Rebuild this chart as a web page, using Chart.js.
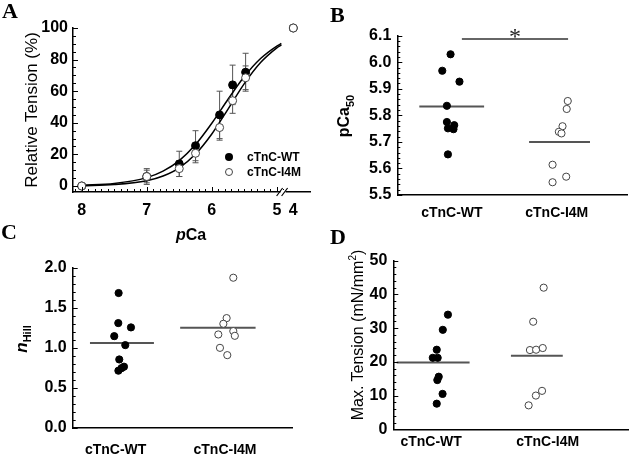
<!DOCTYPE html>
<html>
<head>
<meta charset="utf-8">
<script src="https://cdn.jsdelivr.net/npm/chart.js@4.4.1/dist/chart.umd.min.js"></script>
<style>
    body { margin: 0; width: 633px; height: 460px; background: #fff; position: relative; overflow: hidden;
           font-family: "Liberation Sans", Arial, sans-serif; color: #000; }
    canvas { position: absolute; }
    .panel { position: absolute; font-family: "Liberation Serif", "Times New Roman", serif; font-weight: bold;
             font-size: 22px; line-height: 22px; }
    .ytitle { position: absolute; white-space: nowrap; transform: translate(-50%, -50%) rotate(-90deg); line-height: 1; }
    .legend { position: absolute; font-size: 12px; font-weight: bold; line-height: 12px; white-space: nowrap; }
    .dot { position: absolute; width: 8px; height: 8px; border-radius: 50%; box-sizing: border-box; }
</style>
</head>
<body>
<canvas id="chartA" width="320" height="240" style="left:0;top:0"></canvas>
<canvas id="chartB" width="313" height="230" style="left:320px;top:0"></canvas>
<canvas id="chartC" width="320" height="220" style="left:0;top:240px"></canvas>
<canvas id="chartD" width="313" height="220" style="left:320px;top:240px"></canvas>

<div class="panel" style="left:2px;top:0">A</div>
<div class="panel" style="left:330px;top:4px">B</div>
<div class="panel" style="left:1px;top:221px">C</div>
<div class="panel" style="left:330px;top:226px">D</div>

<div class="ytitle" style="left:31px;top:110px;font-size:17px">Relative Tension (%)</div>
<div class="ytitle" style="left:346px;top:116px;font-size:16px;font-weight:bold">pCa<sub style="font-size:11px">50</sub></div>
<div class="ytitle" style="left:23px;top:339px;font-size:17px;font-weight:bold"><i>n</i><sub style="font-size:11px">Hill</sub></div>
<div class="ytitle" style="left:357px;top:335px;font-size:16px">Max. Tension (mN/mm<sup style="font-size:10px">2</sup>)</div>
<div style="position:absolute;left:191px;top:235px;transform:translate(-50%,-50%);font-size:16px;font-weight:bold;line-height:1"><i>p</i>Ca</div>

<div class="dot" style="left:225px;top:153px;background:#000"></div>
<div class="legend" style="left:247px;top:151px">cTnC-WT</div>
<div class="dot" style="left:225px;top:168px;background:#fff;border:1px solid #444"></div>
<div class="legend" style="left:247px;top:166px">cTnC-I4M</div>

<script>
// Panel A - relative tension vs pCa
const pcaLevels = [8.0, 7.0, 6.5, 6.25, 5.88, 5.68, 5.48];
const wtRelTension = [0, 6, 14, 25.5, 45, 64, 72];
const wtRelSD = [0, 4, 8, 9.5, 15, 12.5, 12];
const i4mRelTension = [0, 6, 11, 20.7, 37, 54, 68.5];
const i4mRelSD = [0, 5, 5, 6, 8, 8, 7.5];
const pcaSaturating = [4.0];
const wtSaturating = [100];
const i4mSaturating = [100];
// fitted curves
const fitPca = [8, 7.5, 7, 6.75, 6.5, 6.25, 6, 5.75, 5.5, 5.25, 5.0, 4.93];
const wtFit = [0.5, 1.6, 5.3, 9.4, 16.1, 26.2, 39.7, 54.9, 69.3, 80.7, 88.6, 90.2];
const i4mFit = [0.2, 0.9, 3.3, 6.3, 11.5, 20.2, 32.9, 48.7, 64.8, 78.1, 87.4, 89.3];
const pcaTicks = [8, 7, 6, 5];
const pcaBreakTicks = [4];
const tensionTicks = [0, 20, 40, 60, 80, 100];

// Panels B-D - individual fibres
const groupNames = ['cTnC-WT', 'cTnC-I4M'];
const groupTicks = [1, 2];

const pca50WT = [6.03, 5.968, 5.927, 5.836, 5.775, 5.763, 5.751, 5.748, 5.653];
const pca50WTJitter = [0.987, 0.908, 1.072, 0.952, 0.952, 1.022, 0.962, 1.015, 0.962];
const pca50I4M = [5.854, 5.824, 5.759, 5.738, 5.732, 5.614, 5.569, 5.548];
const pca50I4MJitter = [2.105, 2.095, 2.055, 2.02, 2.045, 1.96, 2.09, 1.96];
const pca50Means = [5.833, 5.70];
const pca50Ticks = [5.5, 5.6, 5.7, 5.8, 5.9, 6.0, 6.1];

const nHillWT = [1.684, 1.309, 1.255, 1.146, 1.034, 0.855, 0.765, 0.746, 0.715];
const nHillWTJitter = [1.027, 1.024, 1.14, 0.987, 1.088, 1.033, 1.076, 1.053, 1.025];
const nHillI4M = [1.875, 1.371, 1.30, 1.209, 1.167, 1.15, 1.0, 0.909];
const nHillI4MJitter = [2.076, 2.015, 1.985, 2.076, 1.939, 2.09, 1.954, 2.021];
const nHillMeans = [1.06, 1.25];
const nHillTicks = [0, 0.5, 1.0, 1.5, 2.0];

const maxTensionWT = [34.0, 29.5, 23.6, 21.2, 21.2, 15.6, 14.6, 10.5, 7.6];
const maxTensionWTJitter = [1.144, 1.10, 1.048, 1.014, 1.056, 1.065, 1.053, 1.098, 1.048];
const maxTensionI4M = [42.0, 31.9, 23.5, 23.6, 24.1, 11.4, 10.0, 7.1];
const maxTensionI4MJitter = [1.966, 1.876, 1.848, 1.901, 1.958, 1.952, 1.899, 1.837];
const maxTensionMeans = [19.8, 21.8];
const maxTensionTicks = [0, 10, 20, 30, 40, 50];

Chart.defaults.font.family = '"Liberation Sans", Arial, sans-serif';
Chart.defaults.color = '#000';

const tickFont = { size: 16, weight: 'bold' };
const catFont = { size: 14, weight: 'bold' };

function fixTicks(values) {
    return scale => { scale.ticks = values.map(v => ({ value: v })); };
}

function filled(r) {
    return { pointRadius: r, pointBackgroundColor: '#000', pointBorderColor: '#000', pointBorderWidth: 1, showLine: false, clip: false };
}
function open(r) {
    return { pointRadius: r, pointBackgroundColor: '#fff', pointBorderColor: '#444', pointBorderWidth: 1, showLine: false, clip: false };
}

// small tick marks pointing into the plot
const innerTicks = {
    id: 'innerTicks',
    afterDraw(chart, args, opts) {
        if (!opts.axes) return;
        const ctx = chart.ctx;
        ctx.save();
        ctx.strokeStyle = '#000';
        ctx.lineWidth = 1;
        opts.axes.forEach(a => {
            const s = chart.scales[a.id];
            const lo = Math.min(s.min, s.max), hi = Math.max(s.min, s.max);
            const k0 = Math.ceil(lo / a.step - 1e-6), k1 = Math.floor(hi / a.step + 1e-6);
            for (let k = k0; k <= k1; k++) {
                const v = k * a.step;
                const r = v / a.major;
                const len = Math.abs(r - Math.round(r)) < 1e-6 ? 5 : 3;
                const p = Math.round(s.getPixelForValue(v)) + 0.5;
                ctx.beginPath();
                if (s.isHorizontal()) {
                    ctx.moveTo(p, s.top);
                    ctx.lineTo(p, s.top - len);
                } else {
                    ctx.moveTo(s.right, p);
                    ctx.lineTo(s.right + len, p);
                }
                ctx.stroke();
            }
        });
        ctx.restore();
    }
};

// error bars for panel A
const errorBars = {
    id: 'errorBars',
    beforeDatasetsDraw(chart, args, opts) {
        if (!opts.series) return;
        const ctx = chart.ctx;
        const x = chart.scales.x, y = chart.scales.y;
        ctx.save();
        ctx.strokeStyle = '#555';
        ctx.lineWidth = 1;
        opts.series.forEach(sr => {
            sr.x.forEach((p, i) => {
                if (!sr.sd[i]) return;
                const px = x.getPixelForValue(p);
                const top = y.getPixelForValue(sr.y[i] + sr.sd[i]);
                const bot = y.getPixelForValue(sr.y[i] - sr.sd[i]);
                ctx.beginPath();
                ctx.moveTo(px, top); ctx.lineTo(px, bot);
                ctx.moveTo(px - 3, top); ctx.lineTo(px + 3, top);
                ctx.moveTo(px - 3, bot); ctx.lineTo(px + 3, bot);
                ctx.stroke();
            });
        });
        ctx.restore();
    }
};

// "//" mark where the pCa axis is broken
const axisBreak = {
    id: 'axisBreak',
    afterDraw(chart) {
        const s = chart.scales.x2;
        if (!s) return;
        const ctx = chart.ctx;
        const bx = s.left, by = s.top;
        ctx.save();
        ctx.fillStyle = '#fff';
        ctx.fillRect(bx - 3, by - 2, 5, 4);
        ctx.strokeStyle = '#000';
        ctx.lineWidth = 1.2;
        ctx.beginPath();
        ctx.moveTo(bx - 7, by + 4); ctx.lineTo(bx - 1, by - 4);
        ctx.moveTo(bx - 2, by + 4); ctx.lineTo(bx + 4, by - 4);
        ctx.stroke();
        ctx.restore();
    }
};

// group means and significance bar
const meanLines = {
    id: 'meanLines',
    beforeDatasetsDraw(chart, args, opts) {
        if (!opts.means) return;
        const ctx = chart.ctx;
        const x = chart.scales.x, y = chart.scales.y;
        ctx.save();
        ctx.strokeStyle = '#555';
        ctx.lineWidth = 2;
        opts.means.forEach((m, i) => {
            const py = y.getPixelForValue(m);
            ctx.beginPath();
            ctx.moveTo(x.getPixelForValue(opts.spans[i][0]), py);
            ctx.lineTo(x.getPixelForValue(opts.spans[i][1]), py);
            ctx.stroke();
        });
        if (opts.sig) {
            const py = y.getPixelForValue(opts.sig.level);
            ctx.strokeStyle = '#333';
            ctx.lineWidth = 1.5;
            ctx.beginPath();
            ctx.moveTo(x.getPixelForValue(opts.sig.from), py);
            ctx.lineTo(x.getPixelForValue(opts.sig.to), py);
            ctx.stroke();
            ctx.fillStyle = '#222';
            ctx.font = '24px "Liberation Serif", serif';
            ctx.textAlign = 'center';
            ctx.textBaseline = 'alphabetic';
            ctx.fillText('*', x.getPixelForValue((opts.sig.from + opts.sig.to) / 2), py + 5);
        }
        ctx.restore();
    }
};

Chart.register(innerTicks, errorBars, axisBreak, meanLines);

const baseAxis = {
    grid: { display: false, drawTicks: false },
    border: { display: true, color: '#000', width: 1.5 }
};

// Panel A
new Chart(document.getElementById('chartA'), {
    type: 'scatter',
    data: {
        datasets: [
            { label: 'cTnC-I4M', data: pcaLevels.map((p, i) => ({ x: p, y: i4mRelTension[i] })), order: 0, ...open(4) },
            { label: 'cTnC-I4M pCa 4', xAxisID: 'x2', data: pcaSaturating.map((p, i) => ({ x: p, y: i4mSaturating[i] })), order: 0, ...open(4) },
            { label: 'cTnC-WT', data: pcaLevels.map((p, i) => ({ x: p, y: wtRelTension[i] })), order: 1, ...filled(4) },
            { label: 'cTnC-WT pCa 4', xAxisID: 'x2', data: pcaSaturating.map((p, i) => ({ x: p, y: wtSaturating[i] })), order: 1, ...filled(4) },
            { type: 'line', label: 'WT fit', data: fitPca.map((p, i) => ({ x: p, y: wtFit[i] })), borderColor: '#000', borderWidth: 1.5,
              pointRadius: 0, cubicInterpolationMode: 'monotone', order: 2 },
            { type: 'line', label: 'I4M fit', data: fitPca.map((p, i) => ({ x: p, y: i4mFit[i] })), borderColor: '#000', borderWidth: 1.5,
              pointRadius: 0, cubicInterpolationMode: 'monotone', order: 2 }
        ]
    },
    options: {
        responsive: false,
        animation: false,
        devicePixelRatio: 1,
        events: [],
        layout: { padding: { top: 28, right: 2, left: 0, bottom: 0 } },
        scales: {
            x: {
                ...baseAxis, type: 'linear', position: 'bottom', stack: 'pca', stackWeight: 217, reverse: true,
                min: 4.896, max: 8.134, afterBuildTicks: fixTicks(pcaTicks), afterFit: s => { s.height = 48; },
                ticks: { font: tickFont, padding: 9, autoSkip: false, maxRotation: 0 }
            },
            x2: {
                ...baseAxis, type: 'linear', position: 'bottom', stack: 'pca', stackWeight: 28, reverse: true,
                min: 3.55, max: 4.25, afterBuildTicks: fixTicks(pcaBreakTicks), afterFit: s => { s.height = 48; },
                ticks: { font: tickFont, padding: 9, autoSkip: false, maxRotation: 0 }
            },
            y: {
                ...baseAxis, min: -3.8, max: 100, afterBuildTicks: fixTicks(tensionTicks), afterFit: s => { s.width = 73; },
                ticks: { font: tickFont, padding: 5 }
            }
        },
        plugins: {
            legend: { display: false },
            tooltip: { enabled: false },
            innerTicks: { axes: [{ id: 'x', step: 0.1, major: 1 }, { id: 'y', step: 5, major: 20 }] },
            errorBars: {
                series: [
                    { x: pcaLevels, y: wtRelTension, sd: wtRelSD },
                    { x: pcaLevels, y: i4mRelTension, sd: i4mRelSD }
                ]
            }
        }
    }
});

// Panels B, C, D
function groupPanel(id, p) {
    const pts = (vals, xs) => vals.map((v, i) => ({ x: xs[i], y: v }));
    return new Chart(document.getElementById(id), {
        type: 'scatter',
        data: {
            datasets: [
                { label: groupNames[1], data: pts(p.i4m, p.i4mX), ...open(3.6) },
                { label: groupNames[0], data: pts(p.wt, p.wtX), ...filled(3.6) }
            ]
        },
        options: {
            responsive: false,
            animation: false,
            devicePixelRatio: 1,
            events: [],
            layout: { padding: { top: p.top, right: p.right, left: 0, bottom: 0 } },
            scales: {
                x: {
                    ...baseAxis, type: 'linear', min: p.xRange[0], max: p.xRange[1],
                    afterBuildTicks: fixTicks(groupTicks), afterFit: s => { s.height = p.xHeight; },
                    ticks: { font: catFont, padding: p.xPad, autoSkip: false, maxRotation: 0,
                             callback: v => groupNames[groupTicks.indexOf(v)] }
                },
                y: {
                    ...baseAxis, min: p.yTicks[0], max: p.yTicks[p.yTicks.length - 1],
                    afterBuildTicks: fixTicks(p.yTicks), afterFit: s => { s.width = p.yWidth; },
                    ticks: { font: tickFont, padding: 6, callback: v => v.toFixed(p.decimals) }
                }
            },
            plugins: {
                legend: { display: false },
                tooltip: { enabled: false },
                innerTicks: { axes: [{ id: 'y', step: p.minorStep, major: p.yTicks[1] - p.yTicks[0] }] },
                meanLines: { means: p.means, spans: p.spans, sig: p.sig }
            }
        }
    });
}

groupPanel('chartB', {
    wt: pca50WT, wtX: pca50WTJitter, i4m: pca50I4M, i4mX: pca50I4MJitter, means: pca50Means,
    spans: [[0.689, 1.307], [1.736, 2.317]], sig: { from: 1.095, to: 2.108, level: 6.088 },
    yTicks: pca50Ticks, decimals: 1, minorStep: 0.02,
    xRange: [0.479, 2.67], top: 35.7, right: 6, xHeight: 35, yWidth: 77.3, xPad: 10
});

groupPanel('chartC', {
    wt: nHillWT, wtX: nHillWTJitter, i4m: nHillI4M, i4mX: nHillI4MJitter, means: nHillMeans,
    spans: [[0.765, 1.35], [1.59, 2.28]],
    yTicks: nHillTicks, decimals: 1, minorStep: 0.1,
    xRange: [0.607, 2.613], top: 27.7, right: 28, xHeight: 32, yWidth: 72.7, xPad: 14
});

groupPanel('chartD', {
    wt: maxTensionWT, wtX: maxTensionWTJitter, i4m: maxTensionI4M, i4mX: maxTensionI4MJitter, means: maxTensionMeans,
    spans: [[0.704, 1.33], [1.685, 2.13]],
    yTicks: maxTensionTicks, decimals: 0, minorStep: 2,
    xRange: [0.675, 2.69], top: 20.7, right: 1.3, xHeight: 30.7, yWidth: 73.3, xPad: 4
});
</script>
</body>
</html>
